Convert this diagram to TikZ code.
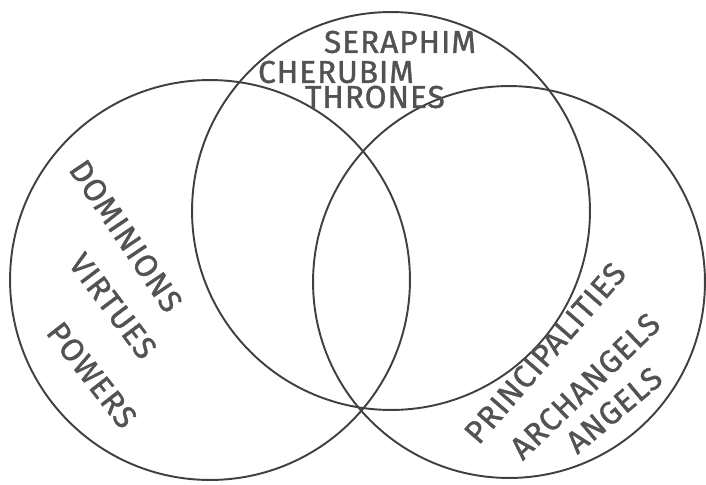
\documentclass[tikz,border=0pt]{standalone}
\usepackage{fontspec}
\setsansfont{Fira Sans}[LetterSpace=3, FakeBold=1.2]
\usepackage{tikz}
\usetikzlibrary{positioning}

\begin{document}
\begin{tikzpicture}[
    x=0.02cm, y=-0.02cm,
    % --- STYLES ---
    ring/.style={draw=black!75, line width=1.1pt},
    rank/.style={
        text=black!68, inner sep=0pt,
        font=\sffamily\fontsize{18}{18}\selectfont
    }
]

\useasboundingbox (0,0) rectangle (706,484);

% ===== 1. CIRCLES =====
\coordinate (cLeft) at (210,280);
\coordinate (cTop) at (391,211);
\coordinate (cRight) at (509,282);

\draw[ring] (cLeft) circle[radius=4cm];
\draw[ring] (cTop) circle[radius=3.98cm];
\draw[ring] (cRight) circle[radius=3.92cm];

% ===== 2. FIRST SPHERE (top) =====
\node[rank] (seraphim) at (400,42) {SERAPHIM};
\node[rank] (cherubim) at (336,72) {CHERUBIM};
\node[rank] (thrones) at (375,97) {THRONES};

% ===== 3. SECOND SPHERE (left) =====
\node[rank, rotate=-56] (dominions) at (126,236) {DOMINIONS};
\node[rank, rotate=-53] (virtues) at (113,306) {VIRTUES};
\node[rank, rotate=-52] (powers) at (92,375) {POWERS};

% ===== 4. THIRD SPHERE (right) =====
\node[rank, rotate=49] (principalities) at (545,353) {PRINCIPALITIES};
\node[rank, rotate=44] (archangels) at (585,386) {ARCHANGELS};
\node[rank, rotate=40] (angels) at (614,410) {ANGELS};

\end{tikzpicture}
\end{document}
